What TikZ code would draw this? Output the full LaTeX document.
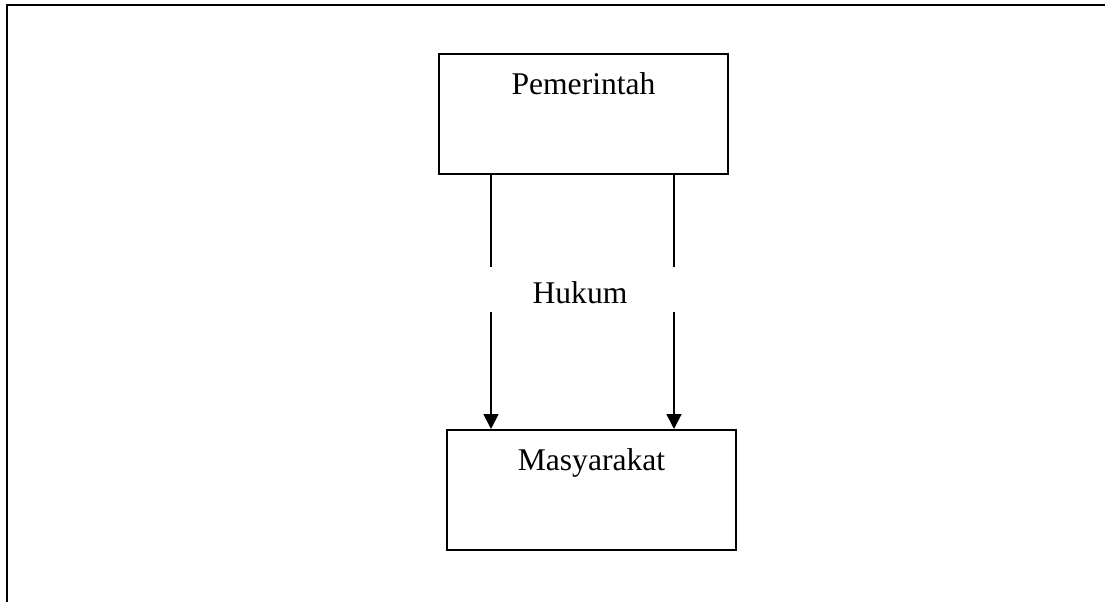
\documentclass[tikz,border=0pt]{standalone}
\usepackage{fontspec}
\setmainfont{Liberation Serif}
\usetikzlibrary{arrows.meta}
\tikzset{
  box/.style={draw, line width=1.8pt, minimum width=289pt, inner xsep=0pt,
    inner ysep=10pt, text height=31pt, text depth=69pt, anchor=north,
    font=\fontsize{31.6}{38}\selectfont},
  lbl/.style={inner sep=0pt, text height=36pt, text depth=9pt, anchor=base,
    font=\fontsize{31.6}{38}\selectfont},
  link/.style={line width=1.8pt},
  flow/.style={line width=1.8pt, -{Triangle[width=15pt,length=15pt]}},
  frame/.style={line width=2.5pt}
}
\begin{document}
\begin{tikzpicture}[x=1pt,y=-1pt]
  \useasboundingbox (0,0) rectangle (1105,602);
  % outer frame (top and left edges)
  \draw[frame] (7,602) -- (7,5) -- (1105,5);
  % the two parties
  \node[box] (gov) at (583.5,53) {Pemerintah};
  \node[box] (soc) at (591.5,429) {Masyarakat};
  % label between them
  \node[lbl] (law) at (580,303) {Hukum};
  % vertical guides for the two links
  \coordinate (xl) at (491,0);
  \coordinate (xr) at (674,0);
  % upper segments
  \draw[link] (gov.south -| xl) -- (law.north -| xl);
  \draw[link] (gov.south -| xr) -- (law.north -| xr);
  % lower segments with arrow heads
  \draw[flow] (law.south -| xl) -- (soc.north -| xl);
  \draw[flow] (law.south -| xr) -- (soc.north -| xr);
\end{tikzpicture}
\end{document}
